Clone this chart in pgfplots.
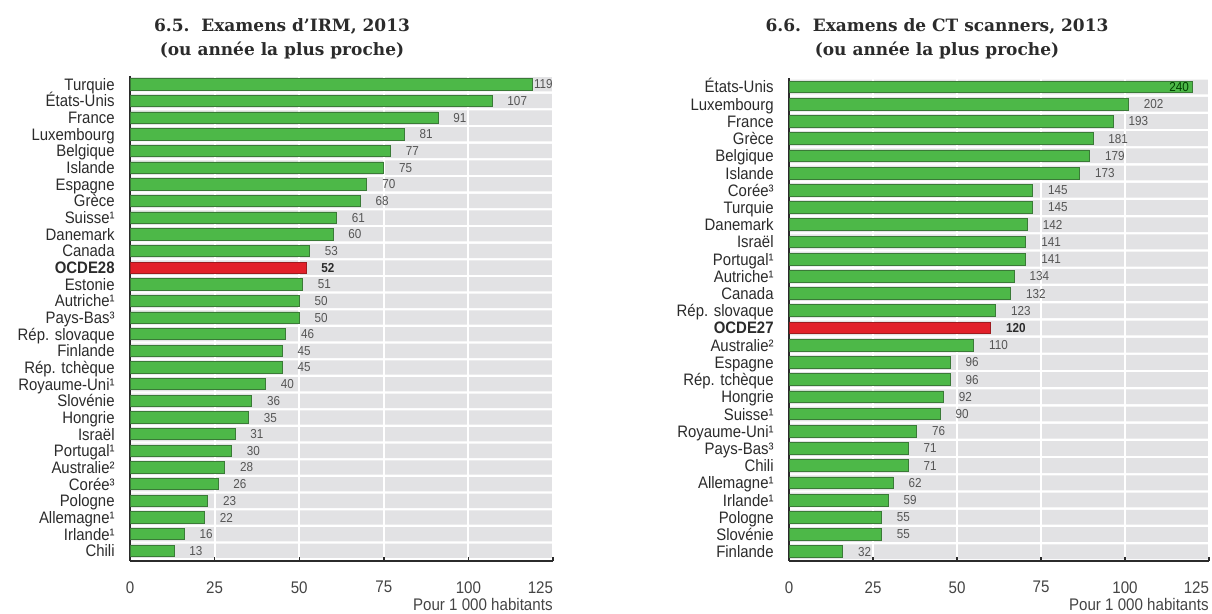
\documentclass[border=0pt]{standalone}
\usepackage{fontspec}
\setmainfont{Liberation Sans}[FakeStretch=0.9]
\newfontfamily\titlefont{DejaVu Serif}
\usepackage{pgfplots}
\pgfplotsset{compat=1.18}
\definecolor{barg}{HTML}{4DB848}
\definecolor{bargd}{HTML}{3A7A37}
\definecolor{barr}{HTML}{E2202A}
\definecolor{barrd}{HTML}{9E1B1F}
\definecolor{band}{HTML}{E2E2E4}
\definecolor{lab}{HTML}{2B2B2B}
\definecolor{val}{HTML}{555555}
\definecolor{tl}{HTML}{444444}

\pgfplotsset{
  common/.style={
    scale only axis, set layers,
    /pgf/number format/assume math mode=true,
    axis x line*=bottom, axis y line*=left,
    axis line style={draw=lab, line width=0.75pt},
    y dir=reverse,
    xmin=0,
    xmajorgrids, major grid style={draw=white, line width=1pt},
    xtick align=inside, major tick length=2.2pt,
    xtick style={draw=lab, line width=0.7pt},
    ytick style={draw=none},
    xticklabel style={font=\fontsize{8.4}{9}\selectfont, text=tl, anchor=north, inner sep=0pt, yshift=-10pt},
    yticklabel style={font=\fontsize{8.3}{9}\selectfont, text=lab, anchor=base east, inner sep=0pt, xshift=-7.5pt, yshift=-3pt},
    xlabel style={font=\fontsize{8.4}{9}\selectfont, text=tl, at={(rel axis cs:1,0)}, anchor=base east, inner sep=0pt, yshift=-25pt},
  },
  greenbar/.style={xbar, bar width=0.68, fill=barg, draw=bargd, line width=0.4pt, point meta=x,
    nodes near coords={\pgfmathprintnumber{\pgfplotspointmeta}},
    every node near coord/.append style={font=\fontsize{6.5}{7}\selectfont, text=val, anchor=west, inner sep=0pt, xshift=7.5pt}},
  redbar/.style={xbar, bar width=0.68, fill=barr, draw=barrd, line width=0.4pt, point meta=x,
    nodes near coords={\pgfmathprintnumber{\pgfplotspointmeta}},
    every node near coord/.append style={font=\bfseries\fontsize{6.5}{7}\selectfont, text=lab, anchor=west, inner sep=0pt, xshift=7.5pt}},
  bandbar/.style={xbar, bar width=0.86, fill=band, draw=none, on layer=axis background, forget plot},
}

\begin{document}
\begin{tikzpicture}

% ---------- 6.5 IRM ----------
\begin{axis}[common,
  at={(65pt,26.5pt)}, anchor=south west,
  width=211.5pt, height=242.5pt,
  xmax=125, ymin=-0.5, ymax=28.61,
  xtick={0,25,50,75,100,125},
  xticklabels={0,25,50,75,100,\makebox[0pt][r]{125}},
  ytick={0,...,28},
  yticklabels={Turquie,États-Unis,France,Luxembourg,Belgique,Islande,Espagne,Grèce,Suisse¹,Danemark,Canada,\textbf{OCDE28},Estonie,Autriche¹,Pays-Bas³,Rép. slovaque,Finlande,Rép. tchèque,Royaume-Uni¹,Slovénie,Hongrie,Israël,Portugal¹,Australie²,Corée³,Pologne,Allemagne¹,Irlande¹,Chili},
  xlabel={Pour 1~000 habitants},
]
\addplot[bandbar] coordinates {(125,0) (125,1) (125,2) (125,3) (125,4) (125,5) (125,6) (125,7) (125,8) (125,9) (125,10) (125,11) (125,12) (125,13) (125,14) (125,15) (125,16) (125,17) (125,18) (125,19) (125,20) (125,21) (125,22) (125,23) (125,24) (125,25) (125,26) (125,27) (125,28)};
\addplot[greenbar, every node near coord/.append style={xshift=-7pt}] coordinates {(119,0)};
\addplot[greenbar] coordinates {(107,1) (91,2) (81,3) (77,4) (75,5) (70,6) (68,7) (61,8) (60,9) (53,10) (51,12) (50,13) (50,14) (46,15) (45,16) (45,17) (40,18) (36,19) (35,20) (31,21) (30,22) (28,23) (26,24) (23,25) (22,26) (16,27) (13,28)};
\addplot[redbar] coordinates {(52,11)};
\end{axis}

% ---------- 6.6 CT ----------
\begin{axis}[common,
  at={(394.5pt,26.5pt)}, anchor=south west,
  width=210pt, height=241.3pt,
  xmax=250, ymin=-0.5, ymax=27.54,
  xtick={0,50,100,150,200,250},
  xticklabels={0,25,50,75,100,\makebox[0pt][r]{125}},
  ytick={0,...,27},
  yticklabels={États-Unis,Luxembourg,France,Grèce,Belgique,Islande,Corée³,Turquie,Danemark,Israël,Portugal¹,Autriche¹,Canada,Rép. slovaque,\textbf{OCDE27},Australie²,Espagne,Rép. tchèque,Hongrie,Suisse¹,Royaume-Uni¹,Pays-Bas³,Chili,Allemagne¹,Irlande¹,Pologne,Slovénie,Finlande},
  xlabel={Pour 1~000 habitants},
]
\addplot[bandbar] coordinates {(250,0) (250,1) (250,2) (250,3) (250,4) (250,5) (250,6) (250,7) (250,8) (250,9) (250,10) (250,11) (250,12) (250,13) (250,14) (250,15) (250,16) (250,17) (250,18) (250,19) (250,20) (250,21) (250,22) (250,23) (250,24) (250,25) (250,26) (250,27)};
\addplot[greenbar, every node near coord/.append style={anchor=east, xshift=-9pt, text=black!75!green}] coordinates {(240,0)};
\addplot[greenbar] coordinates {(202,1) (193,2) (181,3) (179,4) (173,5) (145,6) (145,7) (142,8) (141,9) (141,10) (134,11) (132,12) (123,13) (110,15) (96,16) (96,17) (92,18) (90,19) (76,20) (71,21) (71,22) (62,23) (59,24) (55,25) (55,26) (32,27)};
\addplot[redbar] coordinates {(120,14)};
\end{axis}

% ---------- titles ----------
\node[anchor=base, font=\titlefont\bfseries\fontsize{8.5}{10}\selectfont, text=lab] at (141pt,291pt) {6.5.\ \ Examens d’IRM, 2013};
\node[anchor=base, font=\titlefont\bfseries\fontsize{8.5}{10}\selectfont, text=lab] at (141pt,279pt) {(ou année la plus proche)};
\node[anchor=base, font=\titlefont\bfseries\fontsize{8.5}{10}\selectfont, text=lab] at (468.5pt,291pt) {6.6.\ \ Examens de CT scanners, 2013};
\node[anchor=base, font=\titlefont\bfseries\fontsize{8.5}{10}\selectfont, text=lab] at (468.5pt,279pt) {(ou année la plus proche)};
\path (0,0) rectangle (606pt,307pt);
\end{tikzpicture}
\end{document}
